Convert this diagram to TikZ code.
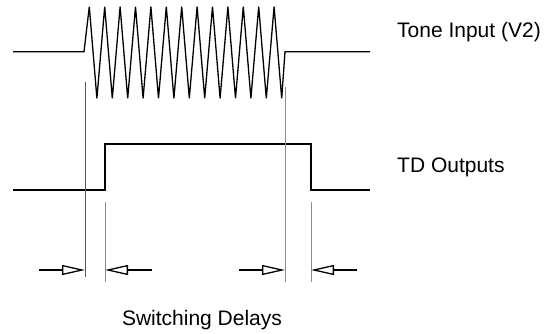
\documentclass[tikz,border=0pt]{standalone}
\usepackage{fontspec}
\setmainfont{Liberation Sans}
\usetikzlibrary{arrows.meta}
\begin{document}
\begin{tikzpicture}[x=1pt,y=-1pt,
  wave/.style={line width=1.3pt,black,line join=miter},
  outwave/.style={line width=2.2pt,black,line join=miter},
  guide/.style={line width=1pt,color=black!45},
  guidethin/.style={line width=0.6pt,color=black!65},
  delay/.style={line width=1.3pt,black,-{Triangle[open,length=23pt,width=10pt,fill=white]}},
  lbl/.style={font=\fontsize{21}{25}\selectfont,inner sep=0pt}]
\useasboundingbox (0,0) rectangle (554,333);
% tone input waveform
\draw[wave] (13,51.7) -- (84,51.7)
  foreach \k in {0,...,12} { -- ({89.3+15.4*\k},6.7) -- ({96.9+15.4*\k},98.3) }
  -- (285,51.7) -- (370,51.7);
% TD output
\draw[outwave] (13,190) -- (105,190) -- (105,144) -- (311,144) -- (311,190) -- (370,190);
% guide lines
\coordinate (g1t) at (85,82);   \coordinate (g1b) at (85,277);
\coordinate (g2t) at (105,202); \coordinate (g2b) at (105,282);
\coordinate (g3t) at (285,87);  \coordinate (g3b) at (285,282);
\coordinate (g4t) at (311,202); \coordinate (g4b) at (311,282);
\draw[guidethin] (g1t) -- (g1b);
\draw[guide] (g2t) -- (g2b);
\draw[guide] (g3t) -- (g3b);
\draw[guide] (g4t) -- (g4b);
% delay arrows
\coordinate (a1s) at (39,270);  \coordinate (a1e) at (85,270);
\coordinate (a2s) at (152,270); \coordinate (a2e) at (105,270);
\coordinate (a3s) at (239,270); \coordinate (a3e) at (285,270);
\coordinate (a4s) at (357,270); \coordinate (a4e) at (311,270);
\draw[delay] (a1s) -- (a1e);
\draw[delay] (a2s) -- (a2e);
\draw[delay] (a3s) -- (a3e);
\draw[delay] (a4s) -- (a4e);
% labels
\node[lbl,anchor=base west] (tone) at (397,37.3) {Tone Input (V2)};
\node[lbl,anchor=base west] (td) at (397,172.3) {TD Outputs};
\node[lbl,anchor=base] (sw) at (202,325.5) {Switching Delays};
\end{tikzpicture}
\end{document}
